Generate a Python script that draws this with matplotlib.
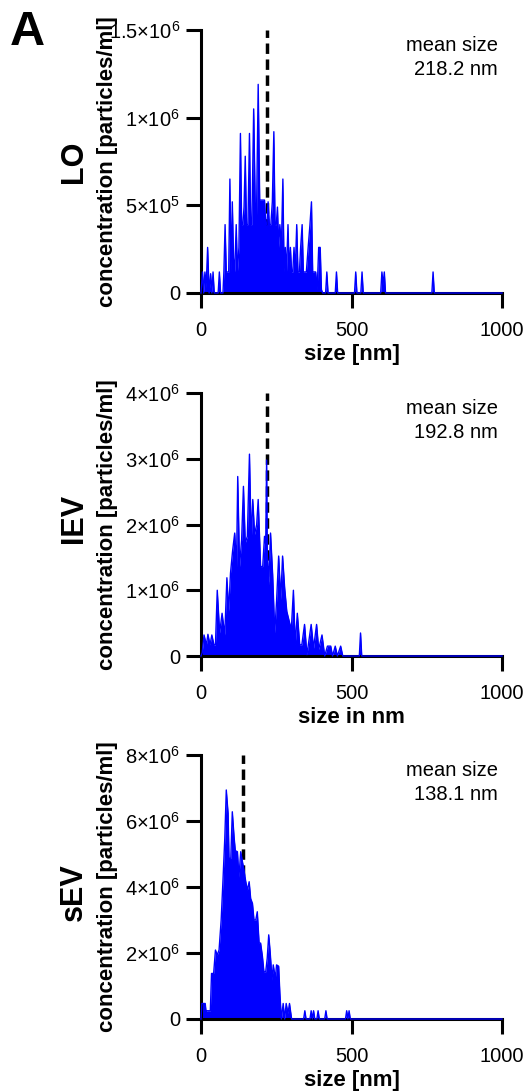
import matplotlib
matplotlib.use('Agg')
import matplotlib.pyplot as plt

plt.rcParams['font.family'] = ['Liberation Sans', 'DejaVu Sans']
plt.rcParams['mathtext.fontset'] = 'custom'
plt.rcParams['mathtext.rm'] = 'Liberation Sans'
plt.rcParams['mathtext.it'] = 'Liberation Sans:italic'
plt.rcParams['mathtext.bf'] = 'Liberation Sans:bold'

# size (nm), concentration (x1e5 particles/ml)
lo = [(0, 0), (5, 1.2), (9, 0), (13, 1.2), (17, 0.3), (22, 2.6), (27, 0), (32, 1.1), (36, 0),
      (40, 1.2), (44, 0), (57, 0), (61, 1.2), (65, 0), (73, 0), (76, 1.2), (80, 3.9), (84, 1.2),
      (88, 1.2), (92, 1.2), (96, 6.5), (100, 1.2), (104, 5.2), (108, 2.0), (112, 1.2), (117, 3.9),
      (121, 1.2), (126, 2.6), (131, 9.1), (135, 3.9), (139, 3.9), (143, 4.9), (147, 7.8), (151, 3.9),
      (156, 3.9), (161, 9.1), (165, 3.9), (169, 3.9), (175, 10.5), (180, 5.2), (184, 3.9), (190, 11.9),
      (195, 5.3), (200, 5.3), (205, 5.3), (211, 5.3), (215, 3.9), (219, 3.9), (223, 5.2), (227, 3.9),
      (232, 3.9), (237, 5.2), (242, 9.2), (246, 3.9), (250, 3.9), (254, 4.9), (258, 2.6), (262, 3.9),
      (267, 2.6), (272, 6.5), (276, 1.2), (280, 2.6), (284, 1.2), (289, 3.9), (293, 1.2), (297, 2.6),
      (301, 1.2), (305, 1.2), (309, 2.6), (313, 1.2), (318, 3.9), (322, 1.2), (327, 1.2), (331, 2.6),
      (336, 3.9), (340, 1.2), (345, 1.2), (350, 1.2), (356, 2.6), (362, 3.9), (367, 5.2), (371, 1.2),
      (375, 1.2), (381, 1.2), (386, 0.2), (391, 2.6), (396, 2.6), (400, 0.2), (404, 0), (414, 0),
      (418, 1.2), (422, 0), (446, 0), (450, 1.2), (454, 0), (510, 0), (514, 1.2), (518, 0), (531, 0),
      (535, 1.2), (539, 0), (597, 0), (601, 1.2), (605, 0.5), (609, 1.2), (613, 0), (767, 0),
      (771, 1.2), (775, 0), (1000, 0)]

# size (nm), concentration (x1e5 particles/ml)
iev = [(0, 0), (4, 0.5), (10, 3.2), (18, 1.7), (23, 3.3), (30, 1.7), (36, 3.2), (43, 1.7), (48, 1.7),
       (54, 10.0), (62, 3.5), (70, 6.5), (79, 3.2), (86, 11.9), (92, 6.8), (98, 12.6), (105, 16.0),
       (112, 18.7), (118, 13.6), (122, 27.3), (128, 13.6), (135, 17.7), (141, 25.8), (147, 17.2),
       (154, 18.2), (161, 30.7), (167, 17.4), (172, 23.8), (178, 18.5), (185, 20.0), (190, 23.8),
       (198, 13.6), (205, 13.6), (211, 18.2), (215, 17.0), (218, 29.8), (220, 16.0), (225, 10.8),
       (231, 18.7), (238, 12.4), (245, 3.5), (251, 8.3), (258, 15.2), (265, 8.6), (271, 15.2),
       (278, 10.3), (285, 6.8), (300, 4.0), (307, 10.0), (313, 1.7), (320, 6.5), (328, 1.7),
       (335, 1.7), (344, 4.8), (352, 0.2), (366, 4.8), (374, 1.2), (384, 4.8), (391, 1.0), (402, 3.2),
       (411, 0), (420, 1.5), (431, 1.5), (437, 0), (446, 1.5), (453, 0), (464, 1.5), (471, 0),
       (526, 0), (530, 3.5), (534, 0), (1000, 0)]

# size (nm), concentration (x1e6 particles/ml)
sev = [(0, 0), (3, 0.47), (7, 0.47), (14, 0.47), (17, 0.2), (20, 0.25), (31, 0.25), (35, 1.38),
       (42, 1.38), (48, 2.09), (54, 1.94), (60, 2.09), (67, 3.0), (73, 4.2), (79, 5.47), (84, 6.94),
       (90, 6.23), (93, 4.87), (99, 4.87), (104, 6.28), (110, 5.5), (114, 5.1), (121, 5.07),
       (126, 4.3), (132, 5.07), (137, 4.8), (143, 4.5), (148, 4.2), (154, 3.9), (160, 4.16),
       (165, 3.65), (171, 3.5), (176, 3.0), (182, 3.0), (187, 3.25), (193, 2.3), (198, 2.3),
       (204, 1.9), (209, 1.43), (215, 1.43), (220, 1.84), (225, 2.55), (230, 2.0), (236, 1.18),
       (240, 1.64), (247, 1.23), (251, 1.64), (258, 1.6), (262, 0.78), (267, 0), (273, 0.47),
       (278, 0), (283, 0.47), (289, 0.17), (294, 0.47), (301, 0), (341, 0), (345, 0.25), (349, 0),
       (362, 0), (366, 0.25), (370, 0), (374, 0.25), (378, 0), (385, 0), (389, 0.25), (393, 0),
       (411, 0), (415, 0.25), (419, 0), (480, 0), (484, 0.25), (488, 0), (492, 0.25), (496, 0),
       (1000, 0)]

data = [lo, iev, sev]
units = [1e5, 1e5, 1e6]
names = ['LO', 'IEV', 'sEV']
mean_sizes = ['218.2', '192.8', '138.1']
mean_lines = [218.2, 218.2, 138.1]
xlabels = ['size [nm]', 'size in nm', 'size [nm]']
yticks = [[0, 5e5, 1e6, 1.5e6], [0, 1e6, 2e6, 3e6, 4e6], [0, 2e6, 4e6, 6e6, 8e6]]
yticklabels = [['0', r'$\mathregular{5×10^{5}}$', r'$\mathregular{1×10^{6}}$', r'$\mathregular{1.5×10^{6}}$'],
               ['0', r'$\mathregular{1×10^{6}}$', r'$\mathregular{2×10^{6}}$',
                r'$\mathregular{3×10^{6}}$', r'$\mathregular{4×10^{6}}$'],
               ['0', r'$\mathregular{2×10^{6}}$', r'$\mathregular{4×10^{6}}$',
                r'$\mathregular{6×10^{6}}$', r'$\mathregular{8×10^{6}}$']]
xticks = [0, 500, 1000]
name_y = [0.5, 0.523, 0.481]

W, H = 527, 1091
fig = plt.figure(figsize=(W / 100, H / 100), dpi=100)

tops = [30, 393, 755]
bots = [293, 656, 1019]

for i in range(3):
    ax = fig.add_axes([201 / W, 1 - bots[i] / H, 301 / W, (bots[i] - tops[i]) / H])
    xs = [p[0] for p in data[i]]
    ys = [p[1] * units[i] for p in data[i]]

    ax.axvline(mean_lines[i], color='black', lw=2.5, dashes=(3, 1.6), zorder=1)
    ax.fill_between(xs, ys, 0, color='#0000ff', lw=0, zorder=2)
    ax.plot(xs, ys, color='#0000ff', lw=1.0, zorder=3, clip_on=False)

    ax.set_xlim(0, 1000)
    ax.set_ylim(0, yticks[i][-1])
    ax.set_xticks(xticks)
    ax.set_xticklabels([str(t) for t in xticks])
    ax.set_yticks(yticks[i])
    ax.set_yticklabels(yticklabels[i])

    for s in ['top', 'right']:
        ax.spines[s].set_visible(False)
    for s in ['left', 'bottom']:
        ax.spines[s].set_linewidth(2.2)
    ax.tick_params(axis='both', direction='out', length=11, width=2.2, labelsize=14.5)
    ax.tick_params(axis='x', pad=9)
    ax.tick_params(axis='y', pad=4)

    ax.set_xlabel(xlabels[i], fontsize=16, fontweight='bold', va='center')
    ax.xaxis.set_label_coords(0.5, -0.232)
    ax.set_ylabel('concentration [particles/ml]', fontsize=16, fontweight='bold', va='center')
    ax.yaxis.set_label_coords(-0.309, 0.5)

    ax.text(-0.422, name_y[i], names[i], transform=ax.transAxes, rotation=90,
            ha='center', va='center', fontsize=22, fontweight='bold')
    ax.text(0.987, 0.895, 'mean size\n' + mean_sizes[i] + ' nm', transform=ax.transAxes,
            ha='right', va='center', multialignment='right', fontsize=14.5, linespacing=1.35)

fig.text(10 / W, 1 - 10 / H, 'A', fontsize=35, fontweight='bold', ha='left', va='top')

fig.savefig('out.png', dpi=100)
